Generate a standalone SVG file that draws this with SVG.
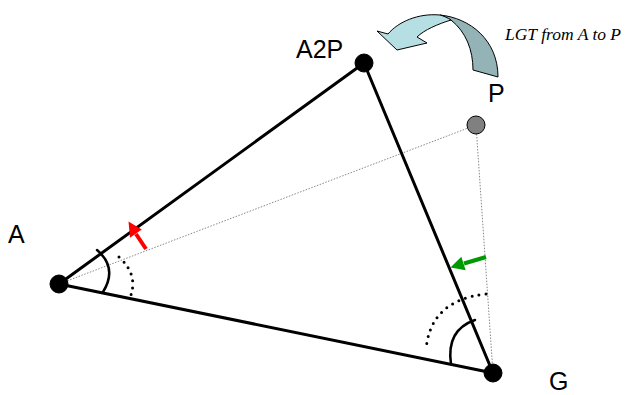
<svg xmlns="http://www.w3.org/2000/svg" width="627" height="395" viewBox="0 0 627 395">
<style>
.edge{stroke:#000;stroke-width:3;fill:none;stroke-linecap:round}
.guide{stroke:#888;stroke-width:1;fill:none;stroke-dasharray:1.5 1.5}
.arc{stroke:#000;stroke-width:2.5;fill:none;stroke-linecap:round}
.dots{stroke:#000;stroke-width:3;fill:none;stroke-linecap:round;stroke-dasharray:0 7}
.vertex{fill:#000;stroke:#000}
.lbl{font-family:"Liberation Sans",Arial,sans-serif;font-size:25px;fill:#000}
</style>
<g id="connectors">
<line class="guide" x1="59" y1="284" x2="476" y2="125"/>
<line class="guide" x1="476" y1="125" x2="493" y2="373"/>
<line class="edge" x1="59" y1="284" x2="364" y2="63"/>
<line class="edge" x1="364" y1="63" x2="493" y2="373"/>
<line class="edge" x1="59" y1="284" x2="493" y2="373"/>
<path class="arc" d="M97,250 Q118,268 103,292"/>
<path class="dots" d="M119,257 Q140,276 129,300"/>
<path class="arc" d="M475,320 Q446,330 451,364"/>
<path class="dots" d="M486,294 Q430,300 426,350"/>
<line x1="146" y1="249" x2="136" y2="234" stroke="#ff0000" stroke-width="4"/>
<polygon points="128.5,221.5 141.8,229.5 130,237.8" fill="#ff0000"/>
<line x1="486" y1="257" x2="464" y2="263.5" stroke="#009900" stroke-width="4"/>
<polygon points="450.5,267.5 461.3,256.8 465.7,270.3" fill="#009900"/>
</g>
<g id="lgt">
<path d="M440,15 C470,18 498,40 498,77 L473,70 C473,50 466,32 451,20 Z" fill="#93b3b6" stroke="#000" stroke-width="1"/>
<path d="M397,50 L377,31 L388,34 C398,22 418,13 440,15 C444,16 448,18 451,20 C438,24 424,30 417,37 L427,43 Z" fill="#b6dfe4" stroke="#000" stroke-width="1"/>
<text x="505" y="40" font-family="'Liberation Serif','Times New Roman',serif" font-style="italic" font-size="17.5">LGT from A to P</text>
</g>
<g id="node-A">
<circle class="vertex" cx="59" cy="284" r="9"/>
<text class="lbl" x="8" y="243">A</text>
</g>
<g id="node-A2P">
<circle class="vertex" cx="364" cy="63" r="9"/>
<text class="lbl" x="296" y="58">A2P</text>
</g>
<g id="node-G">
<circle class="vertex" cx="493" cy="373" r="9"/>
<text class="lbl" x="549" y="390">G</text>
</g>
<g id="node-P">
<circle cx="476" cy="125" r="9" fill="#808080" stroke="#000" stroke-width="1"/>
<text class="lbl" x="488" y="102">P</text>
</g>
</svg>
